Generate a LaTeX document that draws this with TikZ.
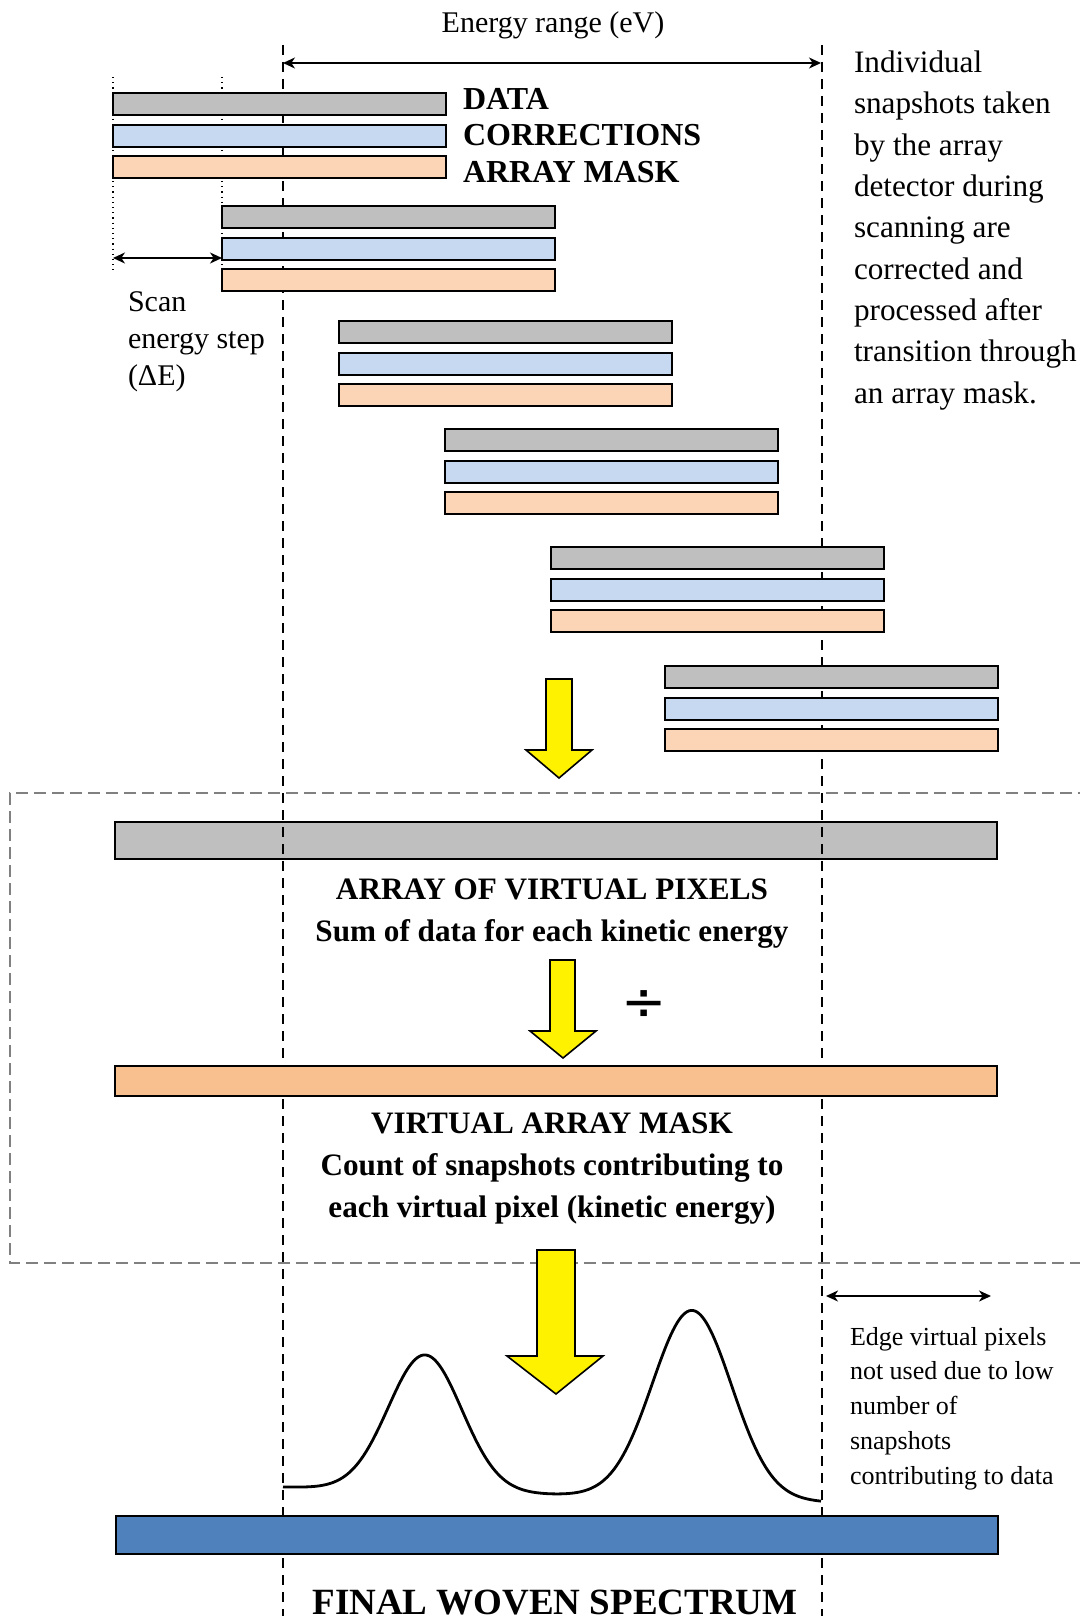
\documentclass[tikz,border=0pt]{standalone}
\usepackage{fontspec}
\setmainfont{Liberation Serif}
\newfontfamily\symbolfont{DejaVu Sans}
\usetikzlibrary{arrows.meta}

\definecolor{bargray}{HTML}{BFBFBF}
\definecolor{barblue}{HTML}{C6D9F1}
\definecolor{barorange}{HTML}{FBD5B5}
\definecolor{maskorange}{HTML}{F9C08F}
\definecolor{spectrumblue}{HTML}{4F81BD}
\definecolor{boxgray}{HTML}{808080}

\tikzset{
  barbase/.style={draw=black, line width=0.9pt, anchor=north west,
    inner sep=0pt, outer sep=0pt},
  snapbar/.style={barbase, minimum width=166.5pt, minimum height=11pt},
  databar/.style={snapbar, fill=bargray},
  corrbar/.style={snapbar, fill=barblue},
  maskbar/.style={snapbar, fill=barorange},
  widebar/.style={barbase, minimum width=441pt},
  rangeline/.style={black, line width=0.8pt, dash pattern=on 5pt off 3.5pt},
  stepline/.style={black, line width=0.6pt, dotted},
  dimarrow/.style={black, line width=0.8pt,
    {Stealth[length=6pt,width=5.5pt,inset=1.8pt]}-{Stealth[length=6pt,width=5.5pt,inset=1.8pt]}},
  flowarrow/.style={draw=black, line width=0.8pt, fill=yellow, line join=miter},
  groupbox/.style={boxgray, line width=0.8pt, dash pattern=on 6pt off 3pt},
  plain/.style={inner sep=0pt, outer sep=0pt, text=black},
  heading/.style={plain, font=\bfseries\fontsize{15.6}{20.9}\selectfont, align=center, anchor=base},
}

\begin{document}
\begin{tikzpicture}[x=0.5pt, y=-0.5pt]
  \useasboundingbox (0,0) rectangle (1080,1616);

  % dashed frame around the summation stage
  \coordinate (fTR) at (1090,793);
  \coordinate (fTL) at (10,793);
  \coordinate (fBL) at (10,1263);
  \coordinate (fBR) at (1090,1263);
  \draw[groupbox] (fTR) -- (fTL) -- (fBL) -- (fBR);

  % summed data array
  \node[widebar, minimum height=18.5pt, fill=bargray] (sumbar) at (115,822) {};

  % limits of the usable energy range
  \coordinate (Ltop) at (283,45);
  \coordinate (Lbot) at (283,1616);
  \coordinate (Rtop) at (822,45);
  \coordinate (Rbot) at (822,1616);
  \draw[rangeline] (Ltop) -- (Lbot);
  \draw[rangeline] (Rtop) -- (Rbot);

  % scan step guides
  \coordinate (s1t) at (113,77);
  \coordinate (s1b) at (113,270);
  \coordinate (s2t) at (222,77);
  \coordinate (s2b) at (222,266);
  \draw[stepline] (s1t) -- (s1b);
  \draw[stepline] (s2t) -- (s2b);

  % successive snapshots: data, corrections and array mask
  \foreach \i/\gx/\gy in {1/113/93, 2/222/206, 3/339/321, 4/445/429, 5/551/547, 6/665/666}{
    \node[databar] (d\i) at (\gx,\gy) {};
    \node[corrbar] (c\i) at (\gx,\gy+32) {};
    \node[maskbar] (m\i) at (\gx,\gy+63) {};
  }

  % virtual mask and final spectrum arrays
  \node[widebar, minimum height=15pt, fill=maskorange] (maskarr) at (115,1066) {};
  \node[widebar, minimum height=19pt, fill=spectrumblue] (finalbar) at (116,1516) {};

  % dimension arrows
  \coordinate (eL) at (283,63);
  \coordinate (eR) at (821,63);
  \draw[dimarrow] (eL) -- (eR);
  \coordinate (stL) at (113,258);
  \coordinate (stR) at (222,258);
  \draw[dimarrow] (stL) -- (stR);
  \coordinate (edL) at (826,1296);
  \coordinate (edR) at (991,1296);
  \draw[dimarrow] (edL) -- (edR);

  % labels (multi-line nodes are placed by the baseline of their last line)
  \node[plain, anchor=base, font=\fontsize{15}{18}\selectfont] (erange) at (553,33) {Energy range (eV)};
  \node[plain, anchor=base west, align=left, font=\bfseries\fontsize{16}{18}\selectfont] (legend) at (463,182)
    {DATA\\CORRECTIONS\\ARRAY MASK};
  \node[plain, anchor=base west, align=left, font=\fontsize{15.6}{20.65}\selectfont] (note) at (854,403)
    {Individual\\snapshots taken\\by the array\\detector during\\scanning are\\corrected and\\processed after\\transition through\\an array mask.};
  \node[plain, anchor=base west, align=left, font=\fontsize{15}{18.3}\selectfont] (steplabel) at (128,385)
    {Scan\\energy step\\(ΔE)};
  \node[heading] (sumlabel) at (552,941)
    {ARRAY OF VIRTUAL PIXELS\\Sum of data for each kinetic energy};
  \node[heading] (masklabel) at (552,1217)
    {VIRTUAL ARRAY MASK\\Count of snapshots contributing to\\each virtual pixel (kinetic energy)};
  \node[plain, anchor=center, font=\symbolfont\fontsize{27}{30}\selectfont] (divide) at (644,1006) {÷};
  \node[plain, anchor=base west, align=left, font=\fontsize{13}{17.35}\selectfont] (edgenote) at (850,1484)
    {Edge virtual pixels\\not used due to low\\number of\\snapshots\\contributing to data};
  \node[plain, anchor=base, font=\bfseries\fontsize{18.5}{22}\selectfont] (finallabel) at (555,1614)
    {FINAL WOVEN SPECTRUM};

  % spectrum with two peaks
  \draw[black, line width=1.4pt, line join=round] plot[domain=283:821, samples=270]
    (\x, {1487 + 0.028*(\x-283)
          - 136*exp(max(-9, -1*pow((\x-425)/52,2)))
          - 188*exp(max(-9, -1*pow((\x-692)/56,2)))});

  % process arrows
  \draw[flowarrow] (546,679) -- (572,679) -- (572,750) -- (592,750) -- (559,778) -- (526,750) -- (546,750) -- cycle;
  \draw[flowarrow] (550,960) -- (575,960) -- (575,1031) -- (596,1031) -- (563,1058) -- (530,1031) -- (550,1031) -- cycle;
  \draw[flowarrow] (537,1250) -- (575,1250) -- (575,1356) -- (603,1356) -- (556,1394) -- (507,1356) -- (537,1356) -- cycle;
\end{tikzpicture}
\end{document}
